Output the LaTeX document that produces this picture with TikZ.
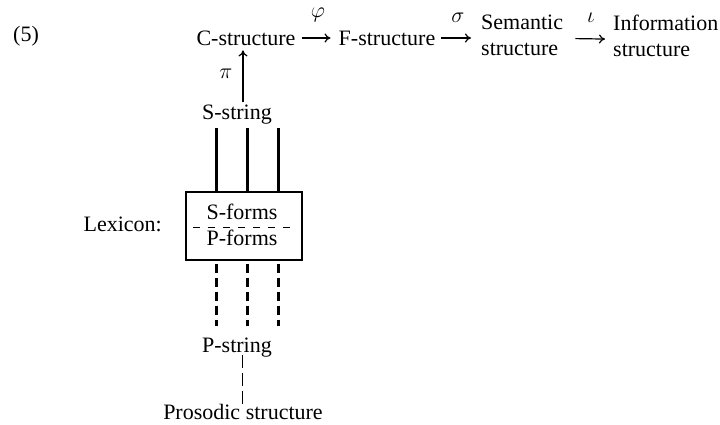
\documentclass[tikz,border=0pt]{standalone}
\usepackage{fix-cm}
\usepackage{fontspec}
\setmainfont{Liberation Serif}
\usetikzlibrary{arrows.meta}
\begin{document}
\begin{tikzpicture}[x=1pt,y=-1pt,
  txt/.style={font=\fontsize{22}{26}\selectfont, inner sep=3pt, anchor=base},
  top/.style={font=\fontsize{22}{26}\selectfont, inner sep=0pt, anchor=base},
  arr/.style={line width=1.2pt, -{Computer Modern Rightarrow[length=6pt,width=9pt]}},
  thickline/.style={line width=3pt},
  thickdash/.style={line width=3pt, dash pattern=on 9pt off 5pt},
  thindash/.style={line width=0.9pt, dash pattern=on 13pt off 5pt},
  lbl/.style={font=\fontsize{22}{26}\selectfont, inner sep=0pt}]
\useasboundingbox (0,0) rectangle (720,425);
\node[txt] (five) at (26,42) {(5)};
\node[top] (C) at (246,46) {C-structure};
\node[top] (F) at (387,46) {F-structure};
\node[top, align=left, anchor=north west] (Sem) at (481,15) {Semantic\\structure};
\node[top, align=left, anchor=north west] (Inf) at (613,15) {Information\\structure};
\draw[arr] ([xshift=6pt,yshift=8pt]C.base east) -- ([xshift=-8pt,yshift=8pt]F.base west);
\draw[arr] ([xshift=6pt,yshift=8pt]F.base east) -- ([xshift=-10pt,yshift=8pt]F.base east -| Sem.west);
\draw[arr] ([xshift=12pt,yshift=-3pt]Sem.east) -- ([xshift=-8pt,yshift=-3pt]Inf.west);
\node[lbl] (phi) at (318,15) {$\varphi$};
\node[lbl] (sig) at (458,18) {$\sigma$};
\node[lbl] (iota) at (591,18) {$\iota$};
\node[txt] (S) at (237,120) {S-string};
\draw[arr] ([xshift=6pt]S.north) -- ([xshift=6pt,yshift=-4pt]S.north |- C.south);
\node[lbl] (pi) at (226,74) {$\pi$};
\node[draw, line width=1.3pt, minimum width=116pt, minimum height=68pt, inner sep=0pt] (box) at (244,226) {};
\node[txt] (Sf) at (242,219) {S-forms};
\node[txt] (Pf) at (242,245) {P-forms};
\coordinate (dl) at (193,227);
\coordinate (dr) at (295,227);
\draw[line width=0.9pt, dash pattern=on 7pt off 8pt] (dl) -- (dr);
\node[txt, anchor=base east] (lex) at (165,231) {Lexicon:};
\foreach \dx in {-28,3,34} {
  \draw[thickline] ([xshift=\dx pt]box.north) -- ([xshift=\dx pt]box.north |- S.south);
}
\node[txt] (P) at (237,352) {P-string};
\foreach \dx in {-28,3,34} {
  \draw[thickdash] ([xshift=\dx pt, yshift=-3pt]box.south) -- ([xshift=\dx pt, yshift=8pt]box.south |- P.north);
}
\node[txt] (pros) at (243,419) {Prosodic structure};
\draw[thindash] ([xshift=5pt, yshift=5pt]P.south) -- ([xshift=5pt, yshift=-6pt]P.south |- pros.north);
\end{tikzpicture}
\end{document}
